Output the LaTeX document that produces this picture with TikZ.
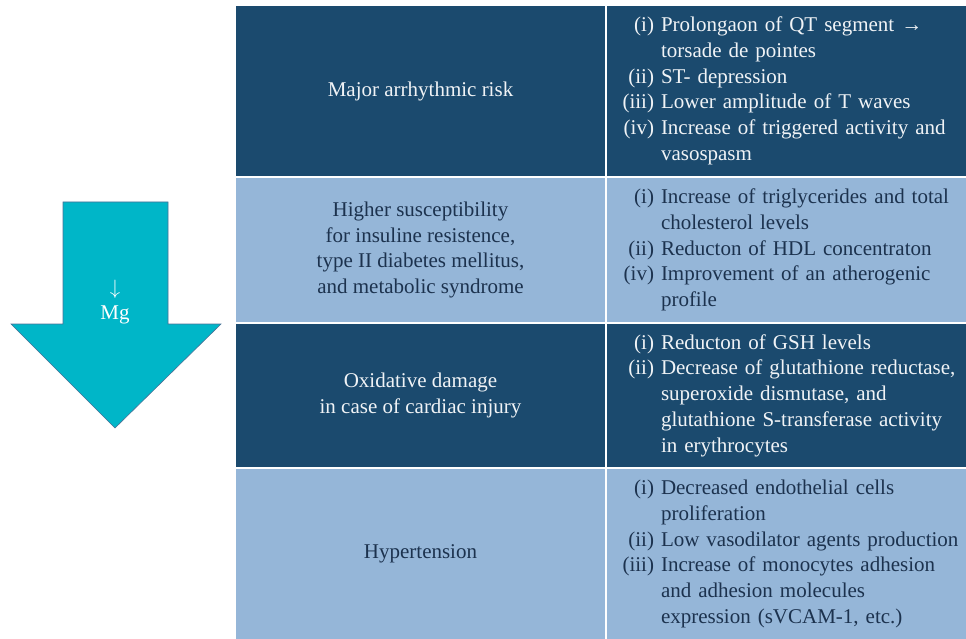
\documentclass[tikz,border=0pt]{standalone}
\usepackage{fontspec}
\setmainfont{Liberation Serif}
\usepackage{tikz}

\definecolor{rowdark}{RGB}{27,74,110}
\definecolor{rowlight}{RGB}{149,182,216}
\definecolor{mgcyan}{RGB}{0,182,200}
\definecolor{mgedge}{RGB}{74,112,150}
\definecolor{inklight}{RGB}{240,243,246}
\definecolor{inkdark}{RGB}{28,50,78}

\newcommand{\lbl}[1]{\makebox[32pt][r]{#1}}

\tikzset{
  cellfont/.style={font=\fontsize{21}{25.7}\selectfont},
  leftcell/.style={cellfont, inner sep=0pt, minimum width=369pt, align=center},
  rightcell/.style={cellfont, inner sep=0pt, minimum width=359pt, text width=329pt},
  dark/.style={fill=rowdark, text=inklight},
  light/.style={fill=rowlight, text=inkdark}
}

\begin{document}
\begin{tikzpicture}[x=1pt,y=-1pt]
    \useasboundingbox (0,0) rectangle (966,639);
    \draw[fill=mgcyan, draw=mgedge, line width=0.6pt] (63,202) -- (168,202) -- (168,324) -- (221,324)
        -- (115,428) -- (11,324) -- (63,324) -- cycle;
    \node[cellfont, text=white, align=center] (mg) at (115,302) {$\downarrow$\\Mg};

    \node[leftcell, dark, minimum height=170pt] (risk) at (420.5,91) {Major arrhythmic risk};
    \node[rightcell, dark, minimum height=170pt] (riskfx) at (786.5,91) {\noindent
        \begin{tabular}{@{}l@{\hspace{7pt}}l@{}}
        \lbl{(i)} & Prolongaon of QT segment → \\
                  & torsade de pointes \\
        \lbl{(ii)} & ST- depression \\
        \lbl{(iii)} & Lower amplitude of T waves \\
        \lbl{(iv)} & Increase of triggered activity and \\
                   & vasospasm
        \end{tabular}};

    \node[leftcell, light, minimum height=144pt] (insulin) at (420.5,250)
        {Higher susceptibility\\for insuline resistence,\\type II diabetes mellitus,\\and metabolic syndrome};
    \node[rightcell, light, minimum height=144pt] (insulinfx) at (786.5,250) {\noindent
        \begin{tabular}{@{}l@{\hspace{7pt}}l@{}}
        \lbl{(i)} & Increase of triglycerides and total \\
                  & cholesterol levels \\
        \lbl{(ii)} & Reducton of HDL concentraton \\
        \lbl{(iv)} & Improvement of an atherogenic \\
                   & profile
        \end{tabular}};

    \node[leftcell, dark, minimum height=143pt] (oxid) at (420.5,395.5)
        {Oxidative damage\\in case of cardiac injury};
    \node[rightcell, dark, minimum height=143pt] (oxidfx) at (786.5,395.5) {\noindent
        \begin{tabular}{@{}l@{\hspace{7pt}}l@{}}
        \lbl{(i)} & Reducton of GSH levels \\
        \lbl{(ii)} & Decrease of glutathione reductase, \\
                   & superoxide dismutase, and \\
                   & glutathione S-transferase activity \\
                   & in erythrocytes
        \end{tabular}};

    \node[leftcell, light, minimum height=170pt] (hyper) at (420.5,554) {Hypertension};
    \node[rightcell, light, minimum height=170pt] (hyperfx) at (786.5,554) {\noindent
        \begin{tabular}{@{}l@{\hspace{7pt}}l@{}}
        \lbl{(i)} & Decreased endothelial cells \\
                  & proliferation \\
        \lbl{(ii)} & Low vasodilator agents production \\
        \lbl{(iii)} & Increase of monocytes adhesion \\
                    & and adhesion molecules \\
                    & expression (sVCAM-1, etc.)
        \end{tabular}};
\end{tikzpicture}
\end{document}
